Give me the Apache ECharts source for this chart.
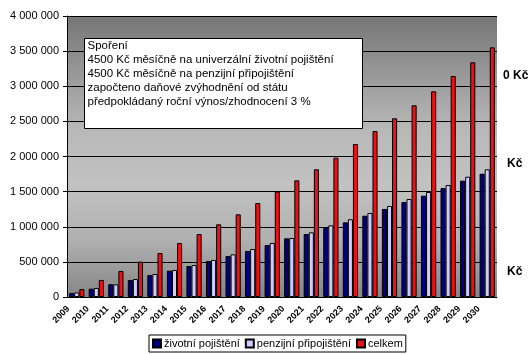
<!DOCTYPE html>
<html>
<head>
<meta charset="utf-8">
<script src="https://cdn.jsdelivr.net/npm/echarts@6/dist/echarts.min.js"></script>
<style>
  html, body { margin: 0; padding: 0; background: #fff; }
  #chart { width: 532px; height: 354px; }
</style>
</head>
<body>
<div id="chart"></div>
<script>
// roky
var years = ['2009', '2010', '2011', '2012', '2013', '2014', '2015', '2016', '2017', '2018', '2019',
  '2020', '2021', '2022', '2023', '2024', '2025', '2026', '2027', '2028', '2029', '2030']

// hodnoty (Kč)
var zivotni = [56000, 118000, 182000, 242000, 313000, 375000, 441000, 512000, 584000, 655000, 740000,
  835000, 897000, 987000, 1063000, 1157000, 1253000, 1352000, 1442000, 1552000, 1656000, 1755000]
var penzijni = [66000, 128000, 180000, 256000, 327000, 384000, 455000, 527000, 607000, 683000, 769000,
  840000, 920000, 1020000, 1106000, 1196000, 1295000, 1395000, 1495000, 1594000, 1712000, 1818000]
var celkem = [112000, 242000, 370000, 503000, 626000, 769000, 897000, 1035000, 1177000, 1338000, 1499000,
  1661000, 1818000, 1983000, 2178000, 2363000, 2544000, 2729000, 2928000, 3146000, 3341000, 3554000]

var seriesNames = ['životní pojištění', 'penzijní připojištění', 'celkem']

var noteLines = [
  'Spoření',
  '4500 Kč měsíčně na univerzální životní pojištění',
  '4500 Kč měsíčně na penzijní připojištění',
  'započteno daňové zvýhodnění od státu',
  'předpokládaný roční výnos/zhodnocení 3 %'
]

var font = 'Arial, "Liberation Sans", sans-serif'

function fmt (v) {
  return String(v).replace(/\B(?=(\d{3})+(?!\d))/g, ' ')
}

var chart = echarts.init(document.getElementById('chart'), null, { renderer: 'canvas' })

var barStyle = function (color) {
  return { color: color, borderColor: '#000', borderWidth: 1 }
}

// plocha grafu
var plot = { left: 67, top: 16, width: 430, height: 281 }

// sedy prechod pozadi - skladany z pruhu (odstin sedi podle vysky)
var shadeStops = [[0, 118], [0.4, 184], [0.6, 194], [0.8, 176], [1, 134]]
function shadeAt (t) {
  for (var i = 1; i < shadeStops.length; i++) {
    var a = shadeStops[i - 1], b = shadeStops[i]
    if (t <= b[0]) {
      return Math.round(a[1] + (b[1] - a[1]) * (t - a[0]) / (b[0] - a[0]))
    }
  }
  return shadeStops[shadeStops.length - 1][1]
}
var bands = []
var bandH = 2
for (var y = 0; y < plot.height; y += bandH) {
  var g = shadeAt((y + bandH / 2) / plot.height)
  bands.push({
    type: 'rect',
    z: -1,
    silent: true,
    shape: { x: plot.left, y: plot.top + y, width: plot.width, height: Math.min(bandH, plot.height - y) },
    style: { fill: 'rgb(' + g + ',' + g + ',' + g + ')' }
  })
}

var option = {
  animation: false,
  textStyle: { fontFamily: font },
  grid: {
    left: plot.left,
    right: 532 - plot.left - plot.width,
    top: plot.top,
    bottom: 354 - plot.top - plot.height
  },
  legend: {
    bottom: 2,
    left: 149,
    itemWidth: 8,
    itemHeight: 8,
    itemGap: 5,
    padding: [3, 3],
    borderColor: '#000',
    borderWidth: 1,
    borderRadius: 0,
    icon: 'rect',
    textStyle: { fontSize: 11, color: '#000', fontFamily: font, padding: [0, 0, 0, -2] },
    data: seriesNames
  },
  xAxis: {
    type: 'category',
    data: years,
    axisLine: { lineStyle: { color: '#000' } },
    axisTick: { length: 4, lineStyle: { color: '#000' } },
    axisLabel: {
      rotate: 45,
      margin: 2,
      padding: [0, 12, 0, 0],
      fontSize: 9,
      fontWeight: 'bold',
      color: '#000',
      interval: 0
    }
  },
  yAxis: {
    type: 'value',
    min: 0,
    max: 4000000,
    interval: 500000,
    axisLine: { show: true, lineStyle: { color: '#000' } },
    axisTick: { show: true, length: 4, lineStyle: { color: '#000' } },
    axisLabel: {
      fontSize: 11,
      color: '#000',
      margin: 8,
      formatter: fmt
    },
    splitLine: { lineStyle: { color: '#000', width: 1 } }
  },
  series: [
    {
      name: seriesNames[0],
      type: 'bar',
      data: zivotni,
      barGap: '0%',
      barCategoryGap: '22%',
      itemStyle: barStyle('#000080')
    },
    {
      name: seriesNames[1],
      type: 'bar',
      data: penzijni,
      itemStyle: barStyle('#ccccff')
    },
    {
      name: seriesNames[2],
      type: 'bar',
      data: celkem,
      itemStyle: barStyle('#ee1111')
    }
  ],
  graphic: bands.concat([
    {
      type: 'group',
      left: 84,
      top: 38,
      z: 100,
      children: [
        {
          type: 'rect',
          z: 100,
          shape: { x: 0, y: 0, width: 278, height: 90 },
          style: { fill: '#fff', stroke: '#000', lineWidth: 1 }
        },
        {
          type: 'text',
          z: 101,
          x: 3,
          y: 0,
          style: {
            text: noteLines.join('\n'),
            font: '11.5px ' + font,
            fill: '#000',
            lineHeight: 14
          }
        }
      ]
    },
    // oříznuté popisky vpravo
    { type: 'text', left: 503, top: 70, style: { text: '0 Kč', font: 'bold 12px ' + font, fill: '#000' } },
    { type: 'text', left: 507, top: 158, style: { text: 'Kč', font: 'bold 12px ' + font, fill: '#000' } },
    { type: 'text', left: 507, top: 266, style: { text: 'Kč', font: 'bold 12px ' + font, fill: '#000' } }
  ])
}

chart.setOption(option)
</script>
</body>
</html>
